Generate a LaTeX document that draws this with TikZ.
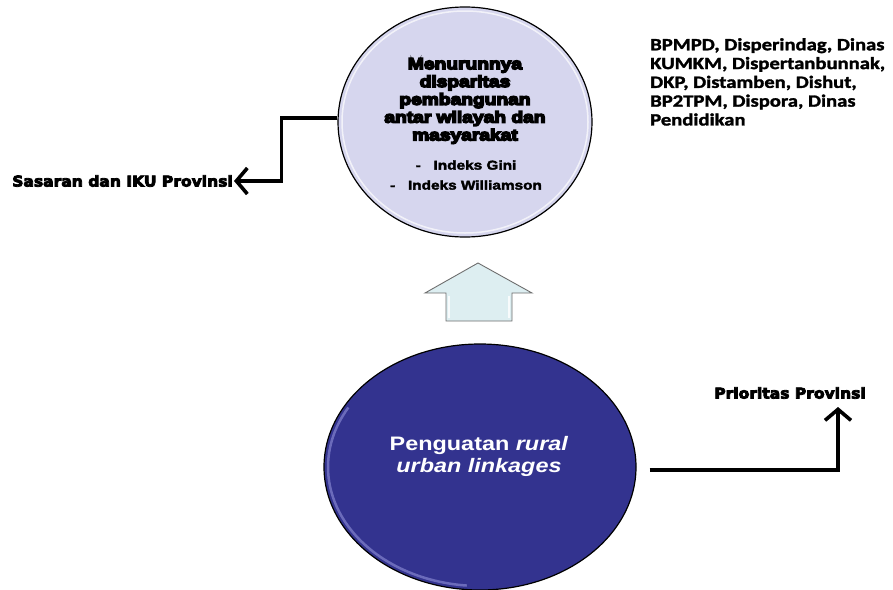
\documentclass[tikz,border=0pt]{standalone}
\usepackage{fontspec}
\usetikzlibrary{shapes.geometric,arrows.meta}
\setmainfont{Liberation Sans}
\newfontfamily\heavyfont{Liberation Sans Bold}[FakeStretch=1.2]
\newfontfamily\plainfont{Liberation Sans Bold}[FakeStretch=1.2]
\newfontfamily\blobfont{Liberation Sans}[FakeStretch=1.2]
\newfontfamily\sidefont{DejaVu Sans Bold}[FakeStretch=1.05]
\newfontfamily\listfont{Carlito Bold}[FakeStretch=1.2]
% glyph outline stroking (fill + stroke render mode) for heavier lettering
\newcommand\strokeglyphs[1]{\special{pdf:literal direct #1 w 2 Tr}}
\definecolor{lavender}{HTML}{D6D6EE}
\definecolor{deepblue}{HTML}{33338F}
\definecolor{rimblue}{HTML}{9A9AE0}
\definecolor{paleblue}{HTML}{DDEEF1}
\definecolor{arrowgray}{HTML}{6E6E6E}
\tikzset{
  goalblob/.style={ellipse, draw=black, line width=1.2pt, fill=lavender, inner sep=0pt},
  basisblob/.style={ellipse, draw=black, line width=1.2pt, fill=deepblue, inner sep=0pt},
  conn/.style={line width=3.6pt, line join=miter,
    -{Straight Barb[length=11pt,width=26pt,line width=3.6pt]}},
  sidelabel/.style={font=\sidefont\fontsize{14.8}{16}\selectfont\strokeglyphs{0.8}, inner sep=1pt},
}
\begin{document}
\begin{tikzpicture}[x=1pt,y=-1pt]
\useasboundingbox (0,0) rectangle (893,589);

% upper ellipse: the target
\node[goalblob, minimum width=254pt, minimum height=230pt] (top) at (465,122) {};
\draw[white, opacity=0.7, line width=1.5pt] (465,122) ellipse [x radius=123pt, y radius=111pt];
\node[font=\heavyfont\fontsize{16}{17.8}\selectfont\strokeglyphs{1.5}, align=center] (ttl) at (465,101)
  {Menurunnya\\disparitas\\pembangunan\\antar wilayah dan\\masyarakat};
\node[font=\plainfont\fontsize{12.8}{20}\selectfont\strokeglyphs{0.35}, align=center] (idx) at (466,175)
  {-\hspace{1em}Indeks Gini\\-\hspace{1em}Indeks Williamson};

% block arrow between the ellipses
\draw[arrowgray, line width=0.9pt, fill=paleblue]
  (478,263) -- (532,293) -- (512,293) -- (512,321) -- (446,321) -- (446,293) -- (425,293) -- cycle;
\draw[white, line width=1.2pt, opacity=0.8]
  (449,318) -- (449,296) (509,318) -- (509,296);

% lower ellipse: the programme
\node[basisblob, minimum width=312pt, minimum height=246pt] (bot) at (480,467) {};
\draw[rimblue, line width=2.5pt, opacity=0.55]
  (480,467) ++(150:152pt and 119pt) arc [start angle=150, end angle=265, x radius=152pt, y radius=119pt];
\node[font=\blobfont\bfseries\fontsize{19.5}{22}\selectfont, text=white, align=center] (btxt) at (479,456)
  {Penguatan \textit{rural}\\\textit{urban linkages}};

% side labels
\node[sidelabel, anchor=east] (sas) at (234,181) {Sasaran dan IKU Provinsi};
\node[sidelabel] (prio) at (790,393) {Prioritas Provinsi};
\node[font=\listfont\fontsize{17.2}{18.8}\selectfont\strokeglyphs{0.3}, align=left, anchor=north west, inner sep=0pt] (opd) at (650,38)
  {BPMPD, Disperindag, Dinas\\KUMKM, Dispertanbunnak,\\DKP, Distamben, Dishut,\\BP2TPM, Dispora, Dinas\\Pendidikan};

% connectors
\coordinate (ptip) at (838,407);
\draw[conn] ([yshift=4pt]top.west) -- ++(-56,0) |- (sas.east);
\draw[conn] ([xshift=13pt,yshift=-3pt]bot.east) -| (ptip);
\end{tikzpicture}
\end{document}
